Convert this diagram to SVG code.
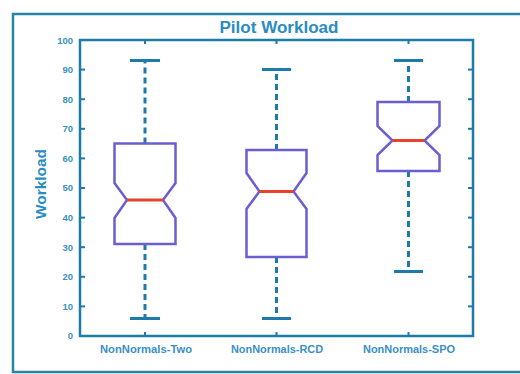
<svg xmlns="http://www.w3.org/2000/svg" width="520" height="374" viewBox="0 0 520 374">
<style>
.frame{fill:none;stroke:#2a82a8;stroke-width:2.5}
.axis{fill:none;stroke:#1d7bab;stroke-width:2.5}
.tick{stroke:#1d7bab;stroke-width:2}
.tl{font-family:"Liberation Sans",Arial,sans-serif;font-size:9.5px;font-weight:bold;fill:#3a90c0;text-anchor:end}
.xl{font-family:"Liberation Sans",Arial,sans-serif;font-size:10px;font-weight:bold;fill:#3a8fc4;text-anchor:middle}
.title{font-family:"Liberation Sans",Arial,sans-serif;font-size:16px;font-weight:bold;fill:#2a8cc2;text-anchor:middle}
.ylab{font-family:"Liberation Sans",Arial,sans-serif;font-size:14px;font-weight:bold;fill:#2a8cc2;text-anchor:middle}
.box{fill:none;stroke:#6a5fd0;stroke-width:2.5;stroke-linejoin:miter}
.med{stroke:#e8422c;stroke-width:3}
.whisk{stroke:#1d7bab;stroke-width:3;stroke-dasharray:6,4}
.cap{stroke:#1d7bab;stroke-width:3}
</style>
<rect width="520" height="374" fill="#ffffff"/>
<rect class="frame" x="13" y="14" width="520" height="358"/>
<text class="title" x="279" y="33" textLength="119" lengthAdjust="spacingAndGlyphs">Pilot Workload</text>
<text class="ylab" transform="translate(46,184) rotate(-90)" textLength="70" lengthAdjust="spacingAndGlyphs">Workload</text>
<g id="axes">
<rect class="axis" x="80" y="40" width="393" height="296"/>
<g class="tick">
<line x1="80" y1="69.6" x2="85" y2="69.6"/><line x1="80" y1="99.2" x2="85" y2="99.2"/><line x1="80" y1="128.8" x2="85" y2="128.8"/><line x1="80" y1="158.4" x2="85" y2="158.4"/><line x1="80" y1="188" x2="85" y2="188"/><line x1="80" y1="217.6" x2="85" y2="217.6"/><line x1="80" y1="247.2" x2="85" y2="247.2"/><line x1="80" y1="276.8" x2="85" y2="276.8"/><line x1="80" y1="306.4" x2="85" y2="306.4"/>
<line x1="473" y1="69.6" x2="468" y2="69.6"/><line x1="473" y1="99.2" x2="468" y2="99.2"/><line x1="473" y1="128.8" x2="468" y2="128.8"/><line x1="473" y1="158.4" x2="468" y2="158.4"/><line x1="473" y1="188" x2="468" y2="188"/><line x1="473" y1="217.6" x2="468" y2="217.6"/><line x1="473" y1="247.2" x2="468" y2="247.2"/><line x1="473" y1="276.8" x2="468" y2="276.8"/><line x1="473" y1="306.4" x2="468" y2="306.4"/>
<line x1="145" y1="40" x2="145" y2="44"/><line x1="276.5" y1="40" x2="276.5" y2="44"/><line x1="408.5" y1="40" x2="408.5" y2="44"/>
<line x1="145" y1="336" x2="145" y2="332"/><line x1="276.5" y1="336" x2="276.5" y2="332"/><line x1="408.5" y1="336" x2="408.5" y2="332"/>
</g>
<text class="tl" x="73" y="44">100</text>
<text class="tl" x="73" y="73">90</text>
<text class="tl" x="73" y="103">80</text>
<text class="tl" x="73" y="132">70</text>
<text class="tl" x="73" y="162">60</text>
<text class="tl" x="73" y="191">50</text>
<text class="tl" x="73" y="221">40</text>
<text class="tl" x="73" y="251">30</text>
<text class="tl" x="73" y="280">20</text>
<text class="tl" x="73" y="310">10</text>
<text class="tl" x="73" y="339">0</text>
<text class="xl" x="146" y="353" textLength="92" lengthAdjust="spacingAndGlyphs">NonNormals-Two</text>
<text class="xl" x="277" y="353" textLength="92" lengthAdjust="spacingAndGlyphs">NonNormals-RCD</text>
<text class="xl" x="409" y="353" textLength="92" lengthAdjust="spacingAndGlyphs">NonNormals-SPO</text>
</g>
<g id="connectors">
<line class="whisk" x1="145" y1="143.5" x2="145" y2="62"/>
<line class="whisk" x1="145" y1="244" x2="145" y2="317"/>
<line class="whisk" x1="276.5" y1="150" x2="276.5" y2="71"/>
<line class="whisk" x1="276.5" y1="257" x2="276.5" y2="317"/>
<line class="whisk" x1="408.5" y1="102" x2="408.5" y2="62"/>
<line class="whisk" x1="408.5" y1="171" x2="408.5" y2="270"/>
</g>
<g id="box-two">
<line class="cap" x1="130" y1="60.5" x2="160" y2="60.5"/>
<line class="cap" x1="130" y1="318.5" x2="160" y2="318.5"/>
<path class="box" d="M114.5,143.5 H175.5 V183 L163,200 L175.5,218 V244 H114.5 V218 L127,200 L114.5,183 Z"/>
<line class="med" x1="127" y1="200" x2="163" y2="200"/>
</g>
<g id="box-rcd">
<line class="cap" x1="262" y1="69.5" x2="291" y2="69.5"/>
<line class="cap" x1="262" y1="318.5" x2="291" y2="318.5"/>
<path class="box" d="M246.5,150 H306.5 V173 L293.5,191.5 L306.5,209 V257 H246.5 V209 L259.5,191.5 L246.5,173 Z"/>
<line class="med" x1="259.5" y1="191.5" x2="293.5" y2="191.5"/>
</g>
<g id="box-spo">
<line class="cap" x1="394" y1="60.5" x2="423" y2="60.5"/>
<line class="cap" x1="394" y1="271.5" x2="423" y2="271.5"/>
<path class="box" d="M377.5,102 H439.5 V126 L424.5,140.5 L439.5,155 V171 H377.5 V155 L392.5,140.5 L377.5,126 Z"/>
<line class="med" x1="392.5" y1="140.5" x2="424.5" y2="140.5"/>
</g>
</svg>
